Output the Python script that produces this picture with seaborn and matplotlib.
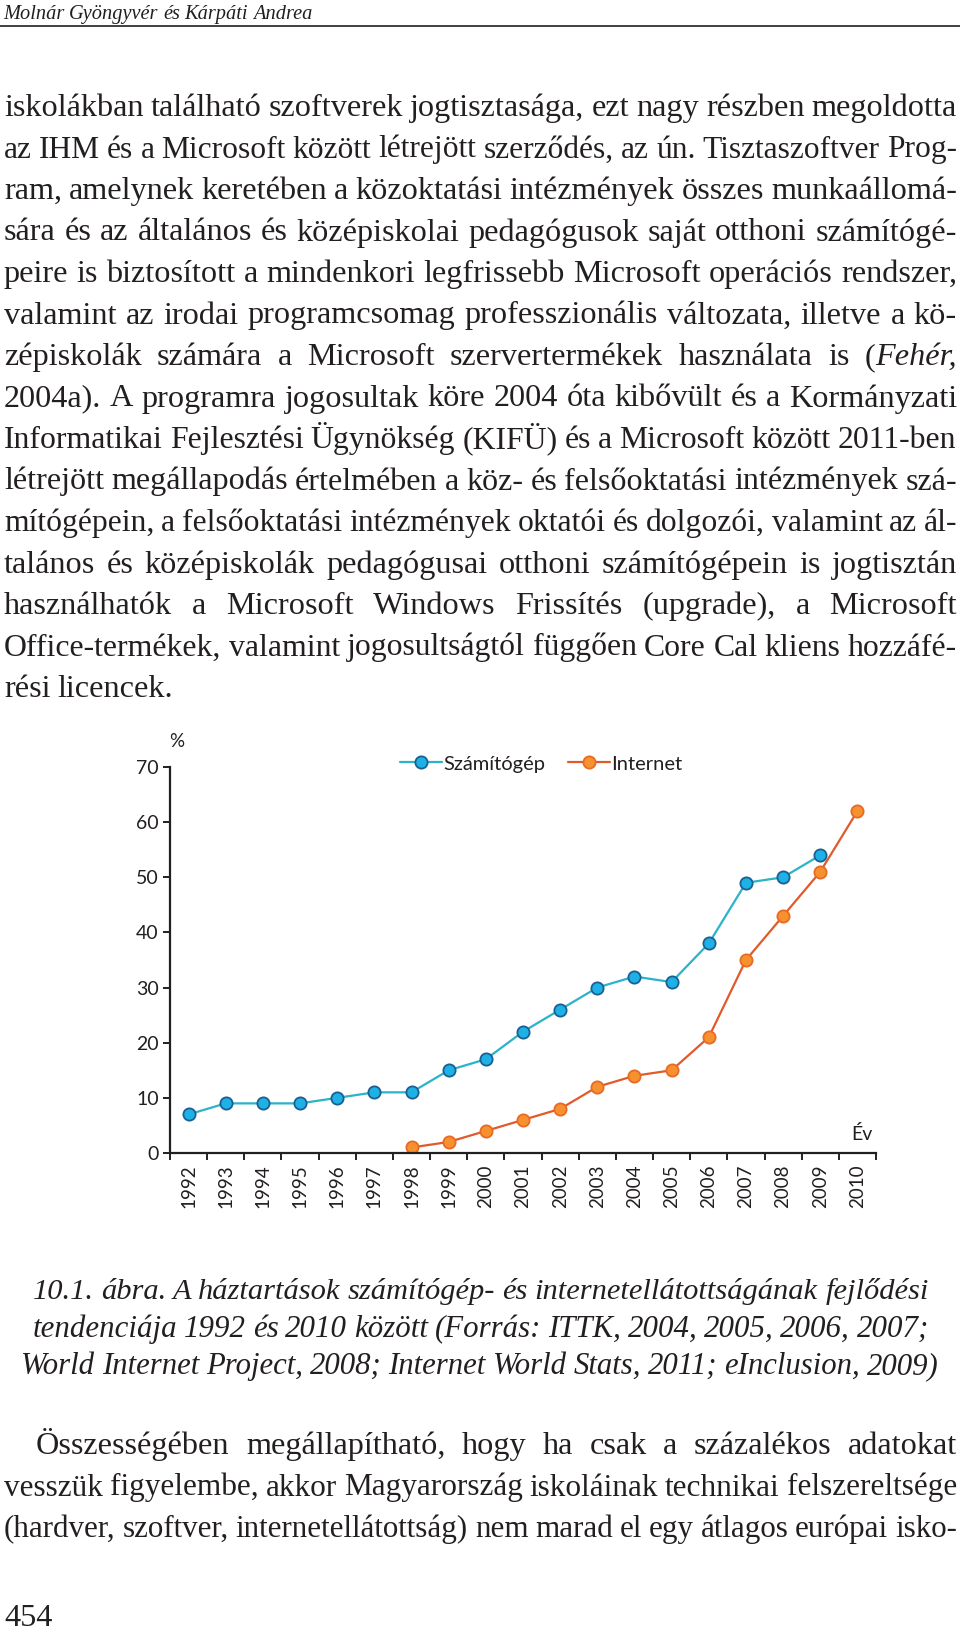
"""
Household computer and internet access in Hungary, 1992-2010,
set as a book page with the surrounding text.
"""
import numpy as np
import pandas as pd
import seaborn as sns
import matplotlib
matplotlib.use("Agg")
from matplotlib import pyplot as plt
from matplotlib.lines import Line2D

W, H, DPI = 960, 1630, 100

YEARS = list(range(1992, 2011))
COMPUTER = [7, 9, 9, 9, 10, 11, 11, 15, 17, 22, 26, 30, 32, 31, 38, 49, 50, 54, np.nan]
INTERNET = [np.nan] * 6 + [1, 2, 4, 6, 8, 12, 14, 15, 21, 35, 43, 51, 62]
SERIES = ["Számítógép", "Internet"]
Y_TICKS = [0, 10, 20, 30, 40, 50, 60, 70]

LINE_COLORS = ["#2bb3c9", "#e05a2b"]
FACE_COLORS = ["#1eb1e6", "#f7912f"]
EDGE_COLORS = ["#1b5e91", "#e86a25"]
INK = "#231f20"
SERIF = ["Liberation Serif", "DejaVu Serif"]
SANS = ["Lato", "DejaVu Sans"]

HEADER = "Molnár Gyöngyvér és Kárpáti Andrea"
BODY = [
    "iskolákban található szoftverek jogtisztasága, ezt nagy részben megoldotta",
    "az IHM és a Microsoft között létrejött szerződés, az ún. Tisztaszoftver Prog-",
    "ram, amelynek keretében a közoktatási intézmények összes munkaállomá-",
    "sára és az általános és középiskolai pedagógusok saját otthoni számítógé-",
    "peire is biztosított a mindenkori legfrissebb Microsoft operációs rendszer,",
    "valamint az irodai programcsomag professzionális változata, illetve a kö-",
    "zépiskolák számára a Microsoft szervertermékek használata is (_Fehér,_",
    "2004a). A programra jogosultak köre 2004 óta kibővült és a Kormányzati",
    "Informatikai Fejlesztési Ügynökség (KIFÜ) és a Microsoft között 2011-ben",
    "létrejött megállapodás értelmében a köz- és felsőoktatási intézmények szá-",
    "mítógépein, a felsőoktatási intézmények oktatói és dolgozói, valamint az ál-",
    "talános és középiskolák pedagógusai otthoni számítógépein is jogtisztán",
    "használhatók a Microsoft Windows Frissítés (upgrade), a Microsoft",
    "Office-termékek, valamint jogosultságtól függően Core Cal kliens hozzáfé-",
    "rési licencek.",
]
CAPTION = [
    "10.1. ábra. A háztartások számítógép- és internetellátottságának fejlődési",
    "tendenciája 1992 és 2010 között  (Forrás: ITTK, 2004, 2005, 2006, 2007;",
    "World Internet Project, 2008; Internet World Stats, 2011; eInclusion, 2009)",
]
TAIL = [
    "Összességében megállapítható, hogy ha csak a százalékos adatokat",
    "vesszük figyelembe, akkor Magyarország iskoláinak technikai felszereltsége",
    "(hardver, szoftver, internetellátottság) nem marad el egy átlagos európai isko-",
]
PAGE_NO = "454"

sns.set_style("ticks")
plt.rcParams["font.family"] = SANS

fig = plt.figure(figsize=(W / DPI, H / DPI), dpi=DPI)
renderer = fig.canvas.get_renderer()


def measure(s, size, style):
    t = fig.text(0, 0, s, fontsize=size, family=SERIF, style=style)
    w = t.get_window_extent(renderer).width
    t.remove()
    return w


def split_word(word, style):
    if style == "italic":
        return [(word, "italic")]
    parts = word.split("_")
    return [(p, "italic" if i % 2 else "normal") for i, p in enumerate(parts) if p]


def put_line(text, x0, x1, y, size, style="normal", justify=True, fit=False):
    """Set one line of text between x0 and x1 (pixels), baseline at y."""
    words = [split_word(w, style) for w in text.split()]
    ww = [sum(measure(s, size, st) for s, st in w) for w in words]
    space = size * DPI / 72 * 0.22
    natural = sum(ww) + space * (len(words) - 1)
    if fit or natural > x1 - x0:
        k = (x1 - x0) / natural
        size *= k
        ww = [v * k for v in ww]
        space *= k
    gap = space
    if justify and len(words) > 1:
        gap = (x1 - x0 - sum(ww)) / (len(words) - 1)
    x = x0
    for w, width in zip(words, ww):
        xs = x
        for seg, st in w:
            fig.text(xs / W, 1 - y / H, seg, fontsize=size, family=SERIF,
                     style=st, color=INK, ha="left", va="baseline")
            xs += measure(seg, size, st)
        x += width + gap


# page text
BODY_SIZE = 23.2
LEAD = 41.5
put_line(HEADER, 3, 312, 19, 14, style="italic", justify=False, fit=True)
fig.add_artist(Line2D([0, 1], [1 - 26 / H] * 2, transform=fig.transFigure,
                      color=INK, lw=1.2))
for i, line in enumerate(BODY):
    put_line(line, 4, 957, 116 + LEAD * i, BODY_SIZE,
             justify=i < len(BODY) - 1)

for line, (x0, x1), y in zip(CAPTION, [(33, 929), (33, 929), (21, 939)],
                             [1299, 1337, 1374]):
    put_line(line, x0, x1, y, 23.5, style="italic")

for i, line in enumerate(TAIL):
    put_line(line, 36 if i == 0 else 4, 957, 1454 + LEAD * i, BODY_SIZE)
put_line(PAGE_NO, 4, 60, 1626, BODY_SIZE, justify=False)

# chart
ax = fig.add_axes([170 / W, 1 - 1153 / H, 706 / W, (1153 - 767) / H])
df = pd.DataFrame({
    "year": YEARS + YEARS,
    "value": COMPUTER + INTERNET,
    "series": [SERIES[0]] * len(YEARS) + [SERIES[1]] * len(YEARS),
}).dropna()

for name, lc, fc, ec in zip(SERIES, LINE_COLORS, FACE_COLORS, EDGE_COLORS):
    sns.lineplot(data=df[df["series"] == name], x="year", y="value", ax=ax,
                 color=lc, lw=1.6, marker="o", markersize=8.8,
                 markerfacecolor=fc, markeredgecolor=ec, markeredgewidth=1.3,
                 label=name, legend=False)

ax.set_xlim(YEARS[0] - 0.5, YEARS[-1] + 0.5)
ax.set_ylim(Y_TICKS[0], Y_TICKS[-1])
sns.despine(ax=ax)
for side in ["left", "bottom"]:
    ax.spines[side].set_linewidth(1.6)
    ax.spines[side].set_color(INK)

ax.set_xticks(YEARS)
ax.set_xticklabels([str(y) for y in YEARS], rotation=90)
ax.set_xticks([y - 0.5 for y in YEARS] + [YEARS[-1] + 0.5], minor=True)
ax.tick_params(axis="x", which="major", length=0, pad=8, labelsize=13.5,
               labelcolor=INK)
ax.tick_params(axis="x", which="minor", length=5, width=1.4, color=INK,
               direction="out")
ax.set_yticks(Y_TICKS)
ax.tick_params(axis="y", length=5, width=1.4, color=INK, pad=3,
               labelsize=14, labelcolor=INK)
ax.set_xlabel("")
ax.set_ylabel("")

fig.text(177 / W, 1 - 741 / H, "%", fontsize=13.5, color=INK,
         ha="center", va="center")
fig.text(862 / W, 1 - 1134 / H, "Év", fontsize=14, color=INK,
         ha="center", va="center")

handles, labels = ax.get_legend_handles_labels()
fig.legend(handles, labels, loc="center left",
           bbox_to_anchor=(390 / W, 1 - 764 / H), ncol=2, frameon=False,
           fontsize=14.5, borderpad=0, handlelength=2.1, handletextpad=0.05,
           columnspacing=1.1, labelcolor=INK)

fig.savefig("out.png", dpi=DPI)
